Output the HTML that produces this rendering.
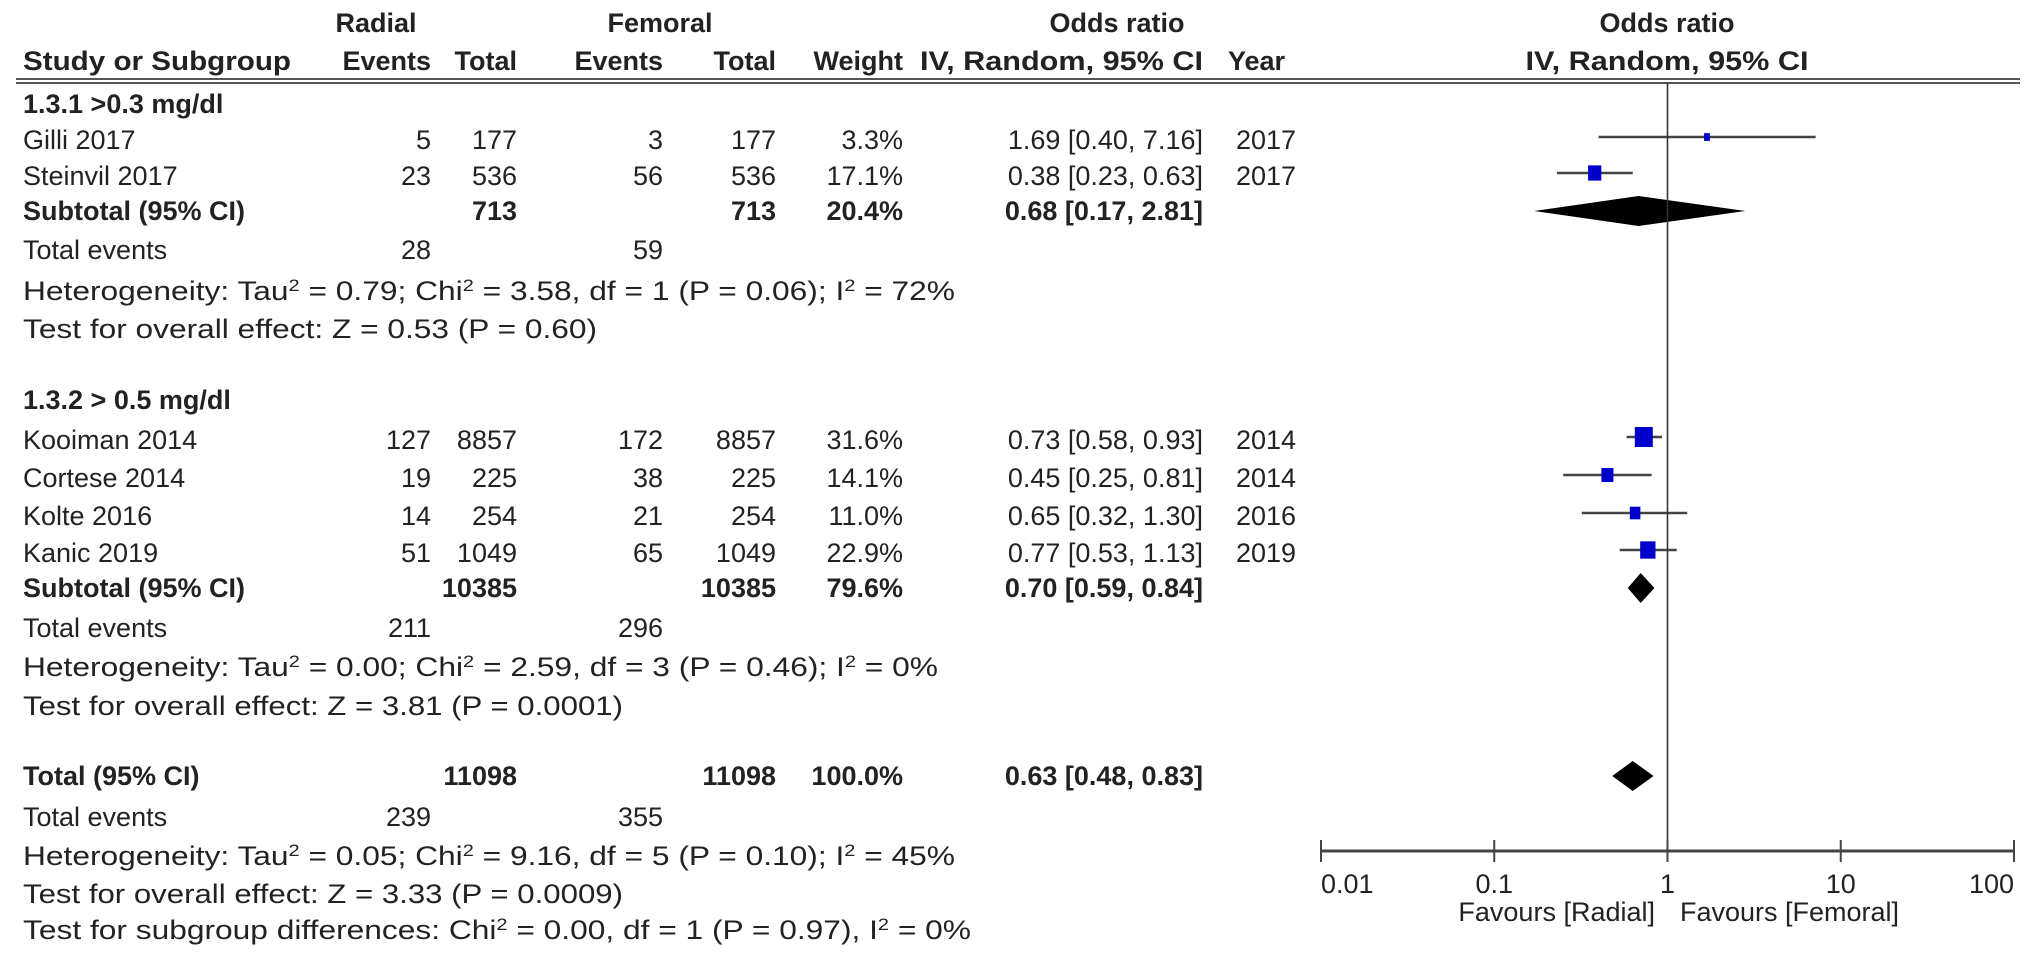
<!DOCTYPE html>
<html><head><meta charset="utf-8"><style>
html,body{margin:0;padding:0;background:#fff;}
svg{display:block;font-family:"Liberation Sans",sans-serif;}
text{fill:#222;font-size:27px;}
.b{font-weight:bold;}
</style></head><body>
<svg id="fp" width="2031" height="956" viewBox="0 0 2031 956">
<line x1="16" y1="79" x2="2020" y2="79" stroke="#555" stroke-width="2"/>
<line x1="16" y1="83" x2="2020" y2="83" stroke="#555" stroke-width="2"/>
<g id="tbl"></g><g id="plot"></g>
</svg>
<script>
const studies=["Gilli 2017","Steinvil 2017","Kooiman 2014","Cortese 2014","Kolte 2016","Kanic 2019"];
const radEvents=["5","23","127","19","14","51"];
const radTotal=["177","536","8857","225","254","1049"];
const femEvents=["3","56","172","38","21","65"];
const femTotal=["177","536","8857","225","254","1049"];
const weights=[3.3,17.1,31.6,14.1,11.0,22.9];
const orVals=[1.69,0.38,0.73,0.45,0.65,0.77];
const orLo=[0.40,0.23,0.58,0.25,0.32,0.53];
const orHi=[7.16,0.63,0.93,0.81,1.30,1.13];
const years=["2017","2017","2014","2014","2016","2019"];
const pooledLabels=["Subtotal (95% CI)","Subtotal (95% CI)","Total (95% CI)"];
const pooledOr=[0.68,0.70,0.63];
const pooledLo=[0.17,0.59,0.48];
const pooledHi=[2.81,0.84,0.83];
const pooledRadTotal=["713","10385","11098"];
const pooledFemTotal=["713","10385","11098"];
const pooledWeight=["20.4%","79.6%","100.0%"];
const tickVals=[0.01,0.1,1,10,100];
const tickLabels=["0.01","0.1","1","10","100"];

const NS="http://www.w3.org/2000/svg";
const tbl=document.getElementById('tbl'),plot=document.getElementById('plot');
const BL=9;
function mk(tag,attrs,parent,txt){const e=document.createElementNS(NS,tag);for(const k in attrs)e.setAttribute(k,attrs[k]);if(txt!==undefined)e.textContent=txt;parent.appendChild(e);return e;}
function T(x,y,s,anchor,bold,name,len){const a={x:x,y:y+BL,'text-anchor':anchor||'start'};if(bold)a['class']='b';if(len){a.textLength=len;a.lengthAdjust='spacingAndGlyphs';}
 const e=mk('text',a,tbl,s);
 
 
 return e;}
function Tsup(x,y,parts,name,len){const e=mk('text',{x:x,y:y+BL,textLength:len,lengthAdjust:'spacingAndGlyphs'},tbl);
 
 
 parts.forEach(p=>{if(p[0]==='^'){mk('tspan',{'baseline-shift':'super','font-size':17},e,p.slice(1));}else mk('tspan',{},e,p);});return e;}
const cRE=431,cRT=517,cFE=663,cFT=776,cW=903,cOR=1203,cY=1236,cL=23;
T(376,23,"Radial",'middle',true,'radial-header');
T(660,23,"Femoral",'middle',true,'femoral-header');
T(1117,23,"Odds ratio",'middle',true,'odds-ratio-header');
T(1667,23,"Odds ratio",'middle',true,'plot-odds-ratio-header');
T(cL,61,"Study or Subgroup",'start',true,'study-header',268);
T(cRE,61,"Events",'end',true,'radial-events-header');
T(cRT,61,"Total",'end',true,'radial-total-header');
T(cFE,61,"Events",'end',true,'femoral-events-header');
T(cFT,61,"Total",'end',true,'femoral-total-header');
T(cW,61,"Weight",'end',true,'weight-header');
T(cOR,61,"IV, Random, 95% CI",'end',true,'or-method-header',283);
T(1285,61,"Year",'end',true,'year-header');
T(1667,61,"IV, Random, 95% CI",'middle',true,'plot-method-header',283);

const x0=1321,x1=2014,axY=851;
function xs(v){return x0+(Math.log10(v)+2)/4*(x1-x0);}
const studyY=[140,176,440,478,516,553];
const pooledY=[211,588,776];
const fmt=v=>v.toFixed(2);
T(cL,104,"1.3.1 >0.3 mg/dl",'start',true,'subgroup-1-title');
T(cL,400,"1.3.2 > 0.5 mg/dl",'start',true,'subgroup-2-title');
studies.forEach((s,i)=>{const y=studyY[i];
 T(cL,y,s,'start',false,'study-name');
 T(cRE,y,radEvents[i],'end',false,'radial-events');
 T(cRT,y,radTotal[i],'end',false,'radial-total');
 T(cFE,y,femEvents[i],'end',false,'femoral-events');
 T(cFT,y,femTotal[i],'end',false,'femoral-total');
 T(cW,y,weights[i].toFixed(1)+"%",'end',false,'study-weight');
 T(cOR,y,fmt(orVals[i])+" ["+fmt(orLo[i])+", "+fmt(orHi[i])+"]",'end',false,'study-or-ci');
 T(cY,y,years[i],'start',false,'study-year');
 const l=mk('line',{x1:xs(orLo[i]),x2:xs(orHi[i]),y1:y-3,y2:y-3,stroke:'#444','stroke-width':2.5},plot);
 
 
 const sz=Math.sqrt(weights[i])*3.2;
 const r=mk('rect',{x:xs(orVals[i])-sz/2,y:y-3-sz/2-1,width:sz,height:sz+2,fill:'#0000cc'},plot);
 
 
});
pooledLabels.forEach((s,i)=>{const y=pooledY[i];
 T(cL,y,s,'start',true,'pooled-label');
 T(cRT,y,pooledRadTotal[i],'end',true,'pooled-radial-total');
 T(cFT,y,pooledFemTotal[i],'end',true,'pooled-femoral-total');
 T(cW,y,pooledWeight[i],'end',true,'pooled-weight');
 T(cOR,y,fmt(pooledOr[i])+" ["+fmt(pooledLo[i])+", "+fmt(pooledHi[i])+"]",'end',true,'pooled-or-ci');
 const h=15,c=xs(pooledOr[i]);
 const d=mk('polygon',{points:[xs(pooledLo[i]),y,c,y-h,xs(pooledHi[i]),y,c,y+h].join(' '),fill:'#000'},plot);
 
 
});
T(cL,250,"Total events",'start',false,'total-events-label');T(cRE,250,"28",'end',false,'radial-total-events');T(cFE,250,"59",'end',false,'femoral-total-events');
Tsup(cL,291,["Heterogeneity: Tau","^2"," = 0.79; Chi","^2"," = 3.58, df = 1 (P = 0.06); I","^2"," = 72%"],'heterogeneity-1',932);
T(cL,329,"Test for overall effect: Z = 0.53 (P = 0.60)",'start',false,'overall-effect-1',574);
T(cL,628,"Total events",'start',false,'total-events-label');T(cRE,628,"211",'end',false,'radial-total-events');T(cFE,628,"296",'end',false,'femoral-total-events');
Tsup(cL,667,["Heterogeneity: Tau","^2"," = 0.00; Chi","^2"," = 2.59, df = 3 (P = 0.46); I","^2"," = 0%"],'heterogeneity-2',915);
T(cL,706,"Test for overall effect: Z = 3.81 (P = 0.0001)",'start',false,'overall-effect-2',600);
T(cL,817,"Total events",'start',false,'total-events-label');T(cRE,817,"239",'end',false,'radial-total-events');T(cFE,817,"355",'end',false,'femoral-total-events');
Tsup(cL,856,["Heterogeneity: Tau","^2"," = 0.05; Chi","^2"," = 9.16, df = 5 (P = 0.10); I","^2"," = 45%"],'heterogeneity-total',932);
T(cL,894,"Test for overall effect: Z = 3.33 (P = 0.0009)",'start',false,'overall-effect-total',600);
Tsup(cL,930,["Test for subgroup differences: Chi","^2"," = 0.00, df = 1 (P = 0.97), I","^2"," = 0%"],'subgroup-differences',948);

let e=mk('line',{x1:xs(1),x2:xs(1),y1:83,y2:axY,stroke:'#333','stroke-width':1.6},plot);


e=mk('line',{x1:x0,x2:x1,y1:axY,y2:axY,stroke:'#444','stroke-width':3},plot);


tickVals.forEach((v,i)=>{const x=xs(v);
 const t=mk('line',{x1:x,x2:x,y1:axY-11,y2:axY+11,stroke:'#444','stroke-width':2},plot);
 
 
 const anc=i===0?'start':(i===tickVals.length-1?'end':'middle');
 T(x,884,tickLabels[i],anc,false,'x-tick-label');
});
T(1655,912,"Favours [Radial]",'end',false,'favours-radial-label');
T(1680,912,"Favours [Femoral]",'start',false,'favours-femoral-label');
</script>
</body></html>
